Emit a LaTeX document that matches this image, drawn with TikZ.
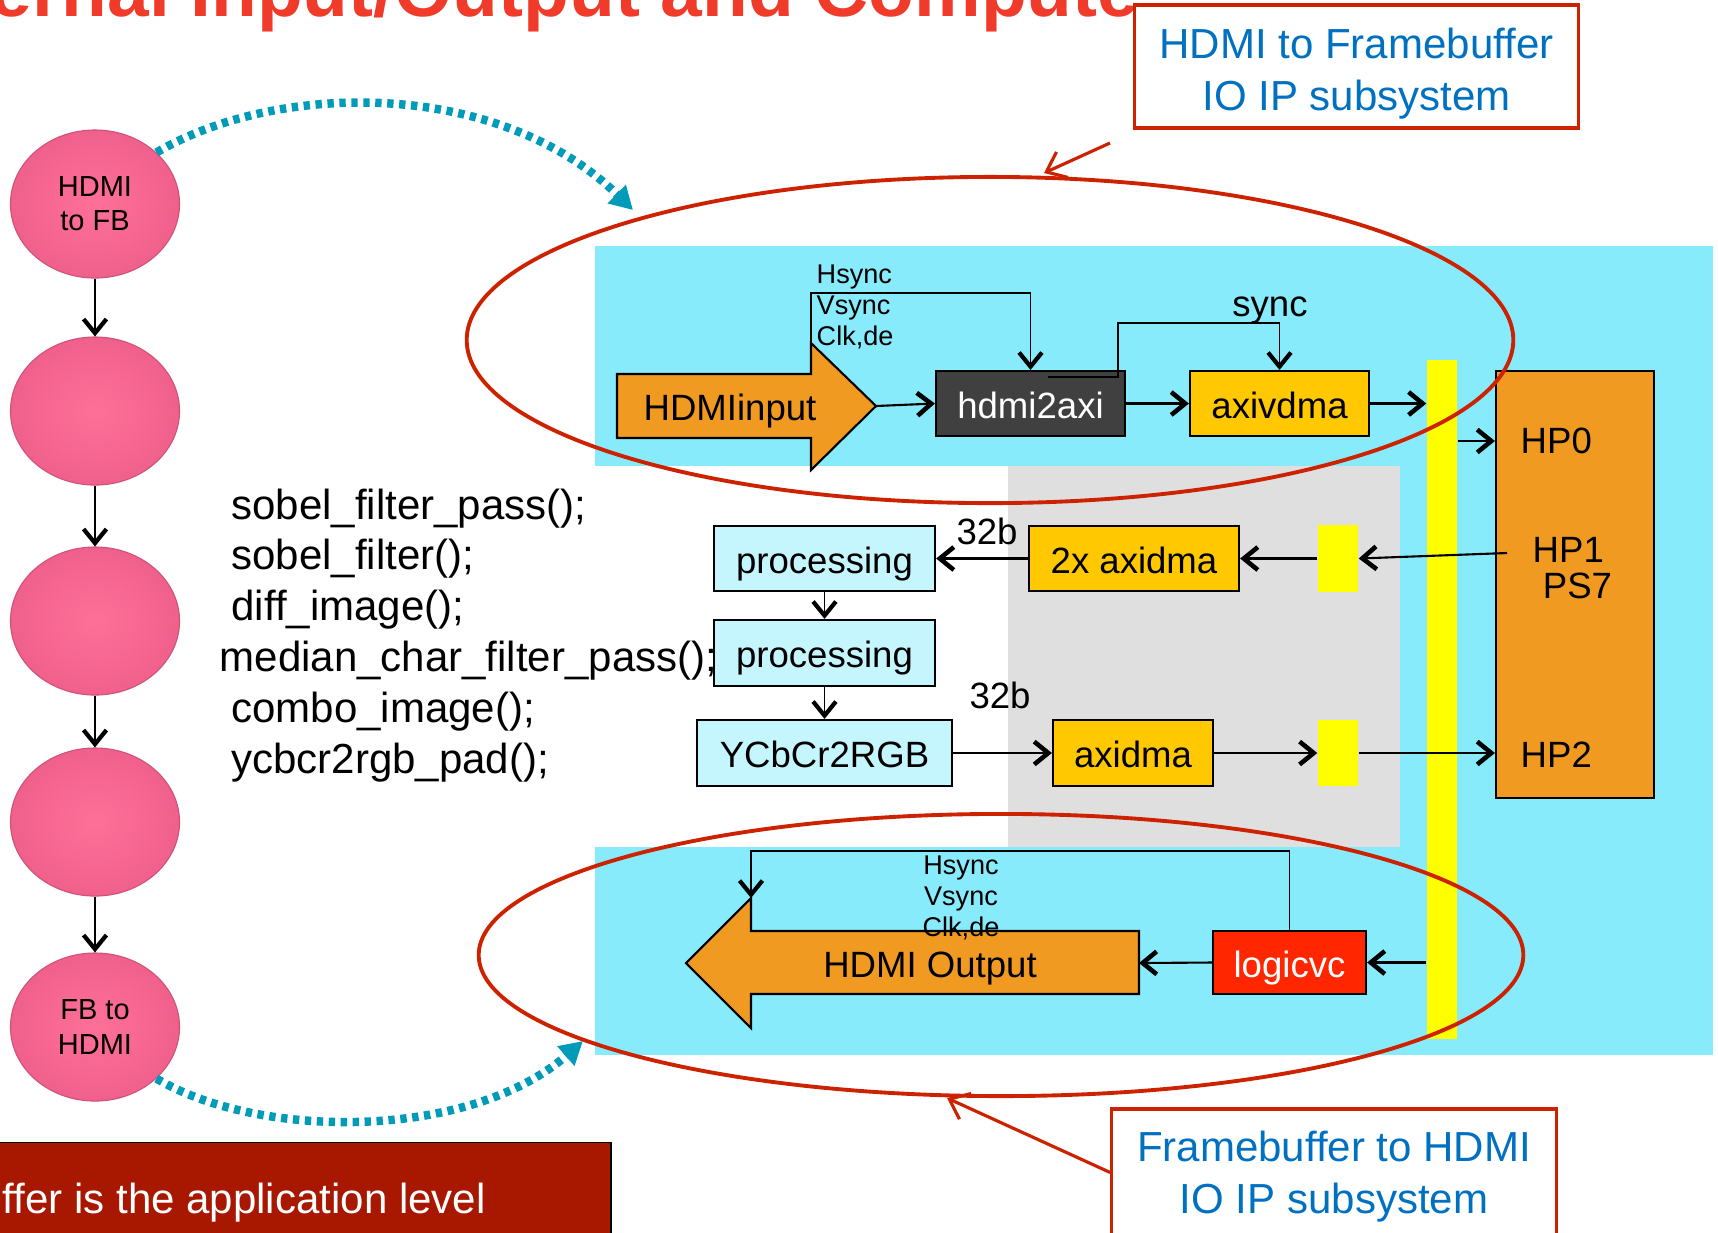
\documentclass[tikz,border=0pt]{standalone}
\usepackage{fontspec}
\setmainfont{Liberation Sans}
\usetikzlibrary{arrows.meta,shapes.geometric}
\definecolor{bgcyan}{RGB}{135,235,252}
\definecolor{boxcyan}{RGB}{197,245,253}
\definecolor{bggray}{RGB}{223,223,223}
\definecolor{ipgold}{RGB}{255,200,0}
\definecolor{iporange}{RGB}{240,154,34}
\definecolor{busyellow}{RGB}{255,255,0}
\definecolor{ipdark}{RGB}{64,64,64}
\definecolor{ipred}{RGB}{255,38,0}
\definecolor{ringred}{RGB}{204,34,0}
\definecolor{flowteal}{RGB}{0,155,185}
\definecolor{calloutblue}{RGB}{0,112,192}
\definecolor{notered}{RGB}{168,24,0}
\definecolor{titlered}{RGB}{240,58,42}
\definecolor{pinkin}{RGB}{255,112,152}
\definecolor{pinkout}{RGB}{240,96,140}
\newcommand{\boxfont}{\fontsize{10.4}{12}\selectfont}
\newcommand{\hpfont}{\fontsize{10.4}{10.25}\selectfont}
\newcommand{\sigfont}{\fontsize{7.7}{8.8}\selectfont}
\newcommand{\stepfont}{\fontsize{8.25}{9.7}\selectfont}
\newcommand{\codefont}{\fontsize{11.95}{14.45}\selectfont}
\newcommand{\notefont}{\fontsize{11.95}{14.8}\selectfont}
\tikzset{
  boxtext/.style={font=\boxfont,text height=8.5pt,text depth=0pt},
  ipbox/.style={draw=black,line width=0.6pt,minimum height=0.65cm,inner sep=0pt,boxtext},
  stepnode/.style={ellipse,draw=pinkout!85!black,line width=0.3pt,shade,inner color=pinkin,outer color=pinkout,
    minimum width=1.69cm,minimum height=1.48cm,align=center,inner sep=0pt,font=\stepfont},
  arr/.style={line width=0.6pt,-{Straight Barb[length=4pt,width=6.5pt,line width=1.3pt]}},
  thinarr/.style={line width=0.4pt,-{Straight Barb[length=4pt,width=6.5pt,line width=1.2pt]}},
  ring/.style={ellipse,draw=ringred,line width=1.1pt,inner sep=0pt},
  flow/.style={draw=flowteal,line width=2.4pt,dash pattern=on 1.8pt off 1.6pt,-{Triangle[length=6.5pt,width=7pt]}},
  callout/.style={draw=ringred,fill=white,line width=0.9pt,inner sep=0pt},
  callouttext/.style={text=calloutblue,align=center,font=\notefont,inner sep=0pt},
  pointer/.style={draw=ringred,line width=0.9pt,-{Straight Barb[length=5pt,width=8pt,line width=0.9pt]}}
}

\begin{document}
\begin{tikzpicture}[x=0.01cm,y=-0.01cm]
\clip (0,0) rectangle (1718,1232);
% \draw[help lines,step=1cm] (0,0) grid (1718,1232);
\fill[bgcyan] (595,246) rectangle (1713,1055);
\fill[white] (580,466) rectangle (1008,847);
\fill[bggray] (1008,466) rectangle (1400,847);
\node (bus) [fill=busyellow,minimum width=0.3cm,minimum height=6.79cm,inner sep=0pt] at (1442,699.5) {};
%
\node (title) [anchor=base east,text=titlered,inner sep=0pt,font=\fontsize{21.3}{24}\selectfont\bfseries] at (1140,16) {External Input/Output and Compute};
%
% HDMI in
\draw[fill=iporange,line width=0.6pt] (617,374) -- (811,374) -- (811,343) -- (876,406) -- (811,470) -- (811,438) -- (617,438) -- cycle;
\node (hdmiin) [boxtext] at (730,406) {HDMIinput};
\coordinate (intip) at (876,406);
\coordinate (inhead) at (811,343);
\node (hdmi2axi) [ipbox,fill=ipdark,text=white,minimum width=1.89cm] at (1030.5,403.5) {hdmi2axi};
\node (axivdma) [ipbox,fill=ipgold,minimum width=1.79cm] at (1279.5,403.5) {axivdma};
\coordinate (syncsrc) at (1048,377);
%
\node (ps7) [draw=black,line width=0.6pt,fill=iporange,minimum width=1.58cm,minimum height=4.27cm] at (1575,584.5) {};
\node (hp0) [anchor=west,inner sep=0pt,font=\boxfont] at (1520,441) {HP0};
\node (hp1) [anchor=north west,align=left,inner sep=0pt,font=\hpfont] at (1532,537) {HP1\\~PS7};
\node (hp2) [anchor=west,inner sep=0pt,font=\boxfont] at (1520,755) {HP2};
\coordinate (hp1out) at (1507,553);
%
% compute
\node (proc1) [ipbox,fill=boxcyan,minimum width=2.21cm] at (824.5,558.5) {processing};
\node (proc2) [ipbox,fill=boxcyan,minimum width=2.21cm,minimum height=0.66cm] at (824.5,653) {processing};
\node (ycbcr) [ipbox,fill=boxcyan,minimum width=2.55cm,minimum height=0.66cm] at (824.5,753) {YCbCr2RGB};
\node (dma2x) [ipbox,fill=ipgold,minimum width=2.10cm] at (1134,558.5) {2x axidma};
\node (axidma) [ipbox,fill=ipgold,minimum width=1.60cm,minimum height=0.66cm] at (1133,753) {axidma};
\node (yb1) [fill=busyellow,minimum width=0.4cm,minimum height=0.67cm,inner sep=0pt] at (1338,558.5) {};
\node (yb2) [fill=busyellow,minimum width=0.4cm,minimum height=0.66cm,inner sep=0pt] at (1338,753) {};
\node (w1) [font=\boxfont] at (987,531) {32b};
\node (w2) [font=\boxfont] at (1000,695) {32b};
%
% HDMI out
\draw[fill=iporange,line width=0.6pt] (1139,931) -- (751,931) -- (751,898) -- (686,963) -- (751,1028) -- (751,994) -- (1139,994) -- cycle;
\node (hdmiout) [boxtext] at (930,963) {HDMI Output};
\coordinate (outtail) at (1139,963);
\coordinate (outhead) at (751,898);
\node (logicvc) [ipbox,fill=ipred,text=white,minimum width=1.53cm,minimum height=0.63cm] at (1289.5,962.5) {logicvc};
%
\draw[arr] (intip) -- (hdmi2axi.west);
\draw[arr] (hdmi2axi.east) -- (axivdma.west);
\draw[arr] (axivdma.east) -- (axivdma.east -| bus.west);
\draw[thinarr] (inhead) -- (811,293) -| (hdmi2axi.north);
\draw[thinarr] (syncsrc) -- (1118,377) |- (1279.5,323) -- (axivdma.north);
\node (synclbl) [font=\boxfont] at (1270,310) {sync};
\node (insig) [anchor=north west,align=left,inner sep=0pt,font=\sigfont] at (816,264) {Hsync\\Vsync\\Clk,de};
\draw[arr] (bus.east |- hp0.west) -- (ps7.west |- hp0.west);
\draw[arr] (hp1out) -- (yb1.east);
\draw[arr] (yb1.west) -- (dma2x.east);
\draw[arr] (dma2x.west) -- (proc1.east);
\draw[thinarr] (proc1.south) -- (proc2.north);
\draw[thinarr] (proc2.south) -- (ycbcr.north);
\draw[arr] (ycbcr.east) -- (axidma.west);
\draw[arr] (axidma.east) -- (yb2.west);
\draw[arr] (yb2.east) -- (yb2.east -| ps7.west);
\draw[arr] (bus.west |- logicvc.east) -- (logicvc.east);
\draw[arr] (logicvc.west) -- (outtail);
\draw[thinarr] (logicvc.north) -- (1289.5,851) -| (outhead);
\node (outsig) [anchor=north,align=center,inner sep=0pt,font=\sigfont] at (961,855) {Hsync\\Vsync\\Clk,de};
%
% software steps
\node (s1) [stepnode] at (95,204) {HDMI\\to FB};
\node (s2) [stepnode] at (95,411) {};
\node (s3) [stepnode] at (95,621) {};
\node (s4) [stepnode] at (95,822) {};
\node (s5) [stepnode] at (95,1027) {FB to\\HDMI};
\foreach \a/\b in {s1/s2,s2/s3,s3/s4,s4/s5}
  \draw[thinarr] (\a) -- (\b);
\node (code) [anchor=north west,align=left,inner sep=0pt,font=\codefont] at (219,488)
  {~sobel\_filter\_pass();\\~sobel\_filter();\\~diff\_image();\\median\_char\_filter\_pass();\\~combo\_image();\\~ycbcr2rgb\_pad();};
%
% subsystems
\node (inring) [ring,minimum width=10.46cm,minimum height=3.26cm] at (990,340) {};
\node (outring) [ring,minimum width=10.44cm,minimum height=2.82cm] at (1001,955) {};
\node (h2fb) [callout,minimum width=4.43cm,minimum height=1.23cm] at (1356.5,66.5) {};
\node (h2fbtext) [callouttext] at (1356.5,74) {HDMI to Framebuffer\\IO IP subsystem};
\node (fb2h) [callout,minimum width=4.44cm,minimum height=1.27cm] at (1334,1172.5) {};
\node (fb2htext) [callouttext] at (1334,1176.5) {Framebuffer to HDMI\\IO IP subsystem};
\coordinate (h2fbfoot) at (1110,143);
\coordinate (inringtop) at (1044,173);
\coordinate (outringbot) at (947,1098);
\draw[pointer] (h2fbfoot) -- (inringtop);
\draw[pointer] (fb2h.west) -- (outringbot);
%
\coordinate (ringin) at (633,210);
\coordinate (ringout) at (583,1041);
\draw[flow] (s1.40) .. controls (280,80) and (500,80) .. (ringin);
\draw[flow] (s5.-40) .. controls (260,1140) and (470,1140) .. (ringout);
%
\node (notebox) [draw=black,line width=0.4pt,fill=notered,anchor=north west,minimum width=6.2cm,minimum height=1.2cm] at (-10,1142) {};
\node (note) [anchor=base west,inner sep=0pt,text=white,font=\notefont] at (-166,1213) {Framebuffer is the application level};
\end{tikzpicture}
\end{document}
